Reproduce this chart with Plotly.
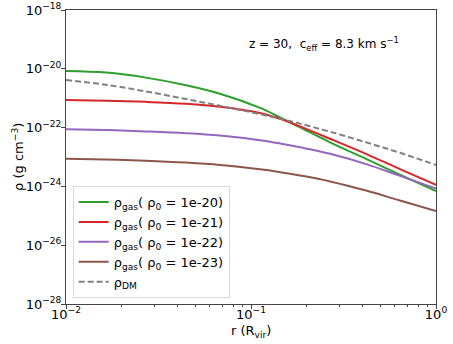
import plotly.graph_objects as go

# log10(r / R_vir)
log_r = [-2.0, -1.784, -1.568, -1.351, -1.168, -0.951, -0.843, -0.735, -0.573, -0.373, -0.195, 0.0]
# log10(rho) values
gas_1e20 = [-20.075, -20.13, -20.30, -20.56, -20.85, -21.33, -21.65, -21.99, -22.50, -23.08, -23.60, -24.16]
gas_1e21 = [-21.061, -21.085, -21.125, -21.19, -21.29, -21.50, -21.70, -21.96, -22.38, -22.91, -23.41, -23.95]
gas_1e22 = [-22.058, -22.085, -22.130, -22.19, -22.27, -22.43, -22.54, -22.67, -22.89, -23.25, -23.64, -24.07]
gas_1e23 = [-23.058, -23.085, -23.125, -23.19, -23.27, -23.42, -23.515, -23.63, -23.83, -24.15, -24.48, -24.84]
dm = [-20.381, -20.543, -20.770, -21.030, -21.259, -21.541, -21.698, -21.865, -22.140, -22.510, -22.857, -23.27]

series_labels = ["1e-20", "1e-21", "1e-22", "1e-23"]
colors = ["#2ca02c", "#d62728", "#9467bd", "#8c564b"]

y_tick_exps = [-18, -20, -22, -24, -26, -28]
x_tick_exps = [-2, -1, 0]

r = [10 ** v for v in log_r]

fig = go.Figure()
for lab, vals, c in zip(series_labels, [gas_1e20, gas_1e21, gas_1e22, gas_1e23], colors):
    fig.add_trace(go.Scatter(
        x=r, y=[10 ** v for v in vals], mode="lines",
        line=dict(color=c, width=2, shape="spline", smoothing=1),
        name=f"ρ<sub>gas</sub>( ρ<sub>0</sub> = {lab})"))
fig.add_trace(go.Scatter(
    x=r, y=[10 ** v for v in dm], mode="lines",
    line=dict(color="#808080", width=2, dash="6px,3px", shape="spline", smoothing=1),
    name="ρ<sub>DM</sub>"))

font = "DejaVu Sans, sans-serif"
spine = "#444444"
fig.update_layout(
    width=453, height=344,
    margin=dict(l=66, r=17, t=10, b=40, autoexpand=False),
    paper_bgcolor="white", plot_bgcolor="white",
    font=dict(family=font, size=12, color="black"),
    showlegend=True,
    legend=dict(x=0.018, y=0.02, xanchor="left", yanchor="bottom",
                bordercolor="#d9d9d9", borderwidth=1, bgcolor="rgba(255,255,255,0.8)",
                font=dict(size=13), tracegroupgap=0, itemwidth=30),
    annotations=[
        dict(x=0.905, y=0.885, xref="paper", yref="paper", xanchor="right", yanchor="middle",
             text="z = 30,  c<sub>eff</sub> = 8.3 km s<sup>−1</sup>", showarrow=False,
             font=dict(size=12)),
        dict(x=0.5, y=-0.095, xref="paper", yref="paper", xanchor="center", yanchor="middle",
             text="r (R<sub>vir</sub>)", showarrow=False, font=dict(size=13)),
        dict(x=-0.13, y=0.5, xref="paper", yref="paper", xanchor="center", yanchor="middle",
             text="ρ (g cm<sup>−3</sup>)", showarrow=False, textangle=-90, font=dict(size=13)),
    ],
)
fig.update_xaxes(
    type="log", range=[-2, 0], showgrid=False, zeroline=False, automargin=False,
    showline=True, linecolor=spine, linewidth=1, mirror=True,
    ticks="outside", ticklen=4, tickcolor=spine, ticklabelstandoff=-6,
    tickvals=[10 ** e for e in x_tick_exps],
    ticktext=[f"10<sup>{'−' if e < 0 else ''}{abs(e)}</sup>" for e in x_tick_exps],
    tickfont=dict(size=13),
    minor=dict(ticks="outside", ticklen=2, tickcolor=spine,
               tickvals=[m * 10 ** e for e in [-2, -1] for m in range(2, 10)]),
)
fig.update_yaxes(
    type="log", range=[-28, -18], showgrid=False, zeroline=False, automargin=False,
    showline=True, linecolor=spine, linewidth=1, mirror=True,
    ticks="outside", ticklen=4, tickcolor=spine, ticklabelstandoff=-3,
    tickvals=[10 ** e for e in y_tick_exps],
    ticktext=[f"10<sup>−{abs(e)}</sup>" for e in y_tick_exps],
    tickfont=dict(size=13),
)
fig.write_html("out.html", config={"displayModeBar": False},
               post_script="document.body.style.margin='0';document.body.style.overflow='hidden';")
